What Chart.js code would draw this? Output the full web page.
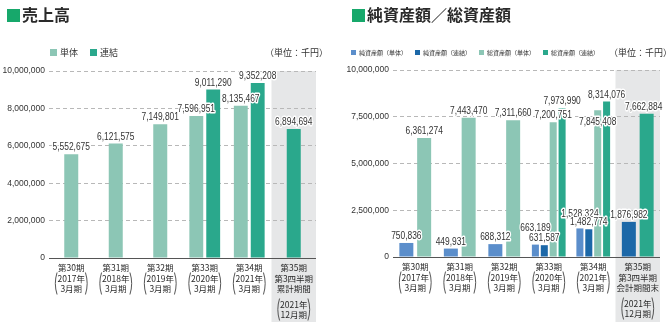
<!DOCTYPE html>
<html lang="ja">
<head>
<meta charset="utf-8">
<script src="https://cdn.jsdelivr.net/npm/chart.js@4.4.1/dist/chart.umd.min.js"></script>
<style>
  html, body { margin: 0; padding: 0; background: #fff; }
  body { width: 669px; height: 330px; position: relative; overflow: hidden; font-family: "Noto Sans CJK JP", sans-serif; color: #222; }
  .panel { position: absolute; top: 0; height: 330px; }
  .panel canvas { position: absolute; left: 0; top: 0; }
  .title { position: absolute; top: 4px; font-weight: bold; font-size: 16px; line-height: 20px; white-space: nowrap; color: #2a2a2a; }
  .title i { display: inline-block; width: 13px; height: 13px; background: #17a86b; margin-right: 2px; vertical-align: -1px; }
  .legend { position: absolute; top: 47px; white-space: nowrap; color: #333; }
  .legend span { display: inline-block; }
  .legend b { display: inline-block; }
  .unit { position: absolute; top: 47px; font-size: 9px; line-height: 12px; white-space: nowrap; color: #333; }
</style>
</head>
<body>
<div class="panel" style="left:0;width:335px">
  <canvas id="salesChart" width="335" height="330"></canvas>
  <div class="title" style="left:7px"><i></i>売上高</div>
  <div class="legend" id="salesLegend" style="left:50px;font-size:9px;line-height:12px"></div>
  <div class="unit" style="left:265px">（単位：千円）</div>
</div>
<div class="panel" style="left:335px;width:334px">
  <canvas id="assetChart" width="334" height="330"></canvas>
  <div class="title" style="left:17px"><i></i>純資産額／総資産額</div>
  <div class="legend" id="assetLegend" style="left:16px;font-size:6px;line-height:12px"></div>
  <div class="unit" style="left:274px">（単位：千円）</div>
</div>
<script>
// 売上高
const salesLabels = [
  ['第30期', '2017年', '3月期'],
  ['第31期', '2018年', '3月期'],
  ['第32期', '2019年', '3月期'],
  ['第33期', '2020年', '3月期'],
  ['第34期', '2021年', '3月期'],
  ['第35期', '第3四半期', '累計期間', '2021年', '12月期']
];
const salesTan = [5552675, 6121575, 7149801, 7596951, 8135467, null];
const salesRen = [null, null, null, 9011290, 9352208, 6894694];

// 純資産額／総資産額
const assetLabels = [
  ['第30期', '2017年', '3月期'],
  ['第31期', '2018年', '3月期'],
  ['第32期', '2019年', '3月期'],
  ['第33期', '2020年', '3月期'],
  ['第34期', '2021年', '3月期'],
  ['第35期', '第3四半期', '会計期間末', '2021年', '12月期']
];
const netTan = [750836, 449931, 688312, 663189, 1528324, null];
const netRen = [null, null, null, 631587, 1482774, 1876982];
const totalTan = [6361274, 7443470, 7311660, 7200751, 7845408, null];
const totalRen = [null, null, null, 7973990, 8314076, 7662884];

const salesTicks = [0, 2000000, 4000000, 6000000, 8000000, 10000000];
const assetTicks = [0, 2500000, 5000000, 7500000, 10000000];

const numFont = '"Liberation Sans", sans-serif';

// shaded column behind the latest period
const shadePlugin = {
  id: 'shade',
  beforeDraw(chart, args, opts) {
    const x = chart.scales.x;
    const half = (x.getPixelForValue(1) - x.getPixelForValue(0)) / 2;
    const c = x.getPixelForValue(opts.index);
    const ctx = chart.ctx;
    ctx.save();
    ctx.fillStyle = '#e6e7e8';
    ctx.fillRect(c - half, chart.chartArea.top, half * 2, opts.bottom - chart.chartArea.top);
    ctx.restore();
  }
};

// category labels, the last two lines wrapped in tall brackets
const periodLabels = {
  id: 'periodLabels',
  afterDraw(chart) {
    const x = chart.scales.x;
    const ctx = chart.ctx;
    const top = chart.chartArea.bottom + 10;
    const lh = 10.5;
    ctx.save();
    ctx.font = '8.5px "Noto Sans CJK JP", sans-serif';
    ctx.fillStyle = '#2a2a2a';
    ctx.strokeStyle = '#444';
    ctx.lineWidth = 0.9;
    ctx.textAlign = 'center';
    ctx.textBaseline = 'middle';
    chart.data.labels.forEach((lines, i) => {
      const cx = x.getPixelForValue(i);
      const p = lines.length - 2;
      let w = 0;
      lines.forEach((s, j) => {
        const y = top + j * lh + (j >= p && p > 1 ? 5 : 0);
        ctx.fillText(s, cx, y);
        if (j >= p) w = Math.max(w, ctx.measureText(s).width);
      });
      const y0 = top + p * lh + (p > 1 ? 5 : 0) - 6;
      const y1 = y0 + lh * 2 + 1;
      const xl = cx - w / 2 - 2;
      const xr = cx + w / 2 + 2;
      ctx.beginPath();
      ctx.moveTo(xl + 1.5, y0);
      ctx.quadraticCurveTo(xl - 2, (y0 + y1) / 2, xl + 1.5, y1);
      ctx.moveTo(xr - 1.5, y0);
      ctx.quadraticCurveTo(xr + 2, (y0 + y1) / 2, xr - 1.5, y1);
      ctx.stroke();
    });
    ctx.restore();
  }
};

// numbers above each bar
const valueLabels = {
  id: 'valueLabels',
  afterDatasetsDraw(chart, args, opts) {
    const ctx = chart.ctx;
    ctx.save();
    ctx.font = '10.5px ' + numFont;
    ctx.textAlign = 'center';
    ctx.textBaseline = 'bottom';
    ctx.lineWidth = 3;
    ctx.lineJoin = 'round';
    ctx.strokeStyle = '#fff';
    ctx.fillStyle = '#333';
    chart.data.datasets.forEach((ds, di) => {
      chart.getDatasetMeta(di).data.forEach((bar, i) => {
        const v = ds.data[i];
        if (v == null) return;
        const n = (opts.nudge && opts.nudge[di + '-' + i]) || [0, 0];
        const txt = v.toLocaleString('en-US');
        ctx.save();
        ctx.translate(bar.x + n[0], bar.y - 1.5 + n[1]);
        ctx.scale(0.8, 1);
        ctx.strokeText(txt, 0, 0);
        ctx.fillText(txt, 0, 0);
        ctx.restore();
      });
    });
    ctx.restore();
  }
};

function buildOptions(o) {
  return {
    responsive: false,
    animation: false,
    layout: { padding: { top: o.top, right: o.right, left: 0, bottom: 0 } },
    datasets: {
      bar: {
        barPercentage: o.barPct,
        categoryPercentage: o.catPct,
        maxBarThickness: 14,
        skipNull: true
      }
    },
    plugins: {
      legend: { display: false },
      tooltip: { enabled: false },
      shade: { index: 5, bottom: 322 },
      valueLabels: { nudge: o.nudge }
    },
    scales: {
      x: {
        grid: { display: false, drawTicks: false },
        border: { display: false },
        afterFit: (scale) => { scale.height = o.xHeight; },
        ticks: { display: false }
      },
      y: {
        min: 0,
        max: 10000000,
        afterFit: (scale) => { scale.width = o.yWidth; },
        afterBuildTicks: (scale) => { scale.ticks = o.ticks.map(v => ({ value: v })); },
        border: { display: false, dash: (ctx) => (ctx.tick && ctx.tick.value === 0 ? [] : [4, 3]) },
        grid: {
          drawTicks: false,
          color: (ctx) => (ctx.tick && ctx.tick.value === 0 ? '#555' : '#b8b8b8')
        },
        ticks: {
          color: '#333',
          padding: 4,
          font: { family: numFont, size: 8.5 },
          callback: (v) => v.toLocaleString('en-US')
        }
      }
    }
  };
}

const salesChart = new Chart(document.getElementById('salesChart'), {
  type: 'bar',
  data: {
    labels: salesLabels,
    datasets: [
      { label: '単体', data: salesTan, backgroundColor: '#8cc6b5' },
      { label: '連結', data: salesRen, backgroundColor: '#2aa88c' }
    ]
  },
  options: buildOptions({ top: 71, right: 19, barPct: 0.82, catPct: 0.76, xHeight: 72, yWidth: 49, ticks: salesTicks, nudge: {} }),
  plugins: [shadePlugin, valueLabels, periodLabels]
});

const assetChart = new Chart(document.getElementById('assetChart'), {
  type: 'bar',
  data: {
    labels: assetLabels,
    datasets: [
      { label: '純資産額（単体）', data: netTan, backgroundColor: '#5b8ecb' },
      { label: '純資産額（連結）', data: netRen, backgroundColor: '#1c68a8' },
      { label: '総資産額（単体）', data: totalTan, backgroundColor: '#8cc6b5' },
      { label: '総資産額（連結）', data: totalRen, backgroundColor: '#2aa88c' }
    ]
  },
  options: buildOptions({
    top: 70, right: 9, barPct: 0.79, catPct: 0.8, xHeight: 73, yWidth: 58, ticks: assetTicks,
    nudge: { '0-3': [0, -10], '0-4': [0, -8], '2-4': [0, 19], '3-5': [-3, 0] }
  }),
  plugins: [shadePlugin, valueLabels, periodLabels]
});

// html legends built from the chart datasets
function fillLegend(chart, id, box, gap) {
  const el = document.getElementById(id);
  el.innerHTML = chart.data.datasets.map(ds =>
    '<span style="margin-right:' + gap + 'px"><b style="width:' + box + 'px;height:' + box + 'px;margin-right:3px;background:' +
    ds.backgroundColor + '"></b>' + ds.label + '</span>'
  ).join('');
}
fillLegend(salesChart, 'salesLegend', 7, 12);
fillLegend(assetChart, 'assetLegend', 5, 8);
</script>
</body>
</html>
